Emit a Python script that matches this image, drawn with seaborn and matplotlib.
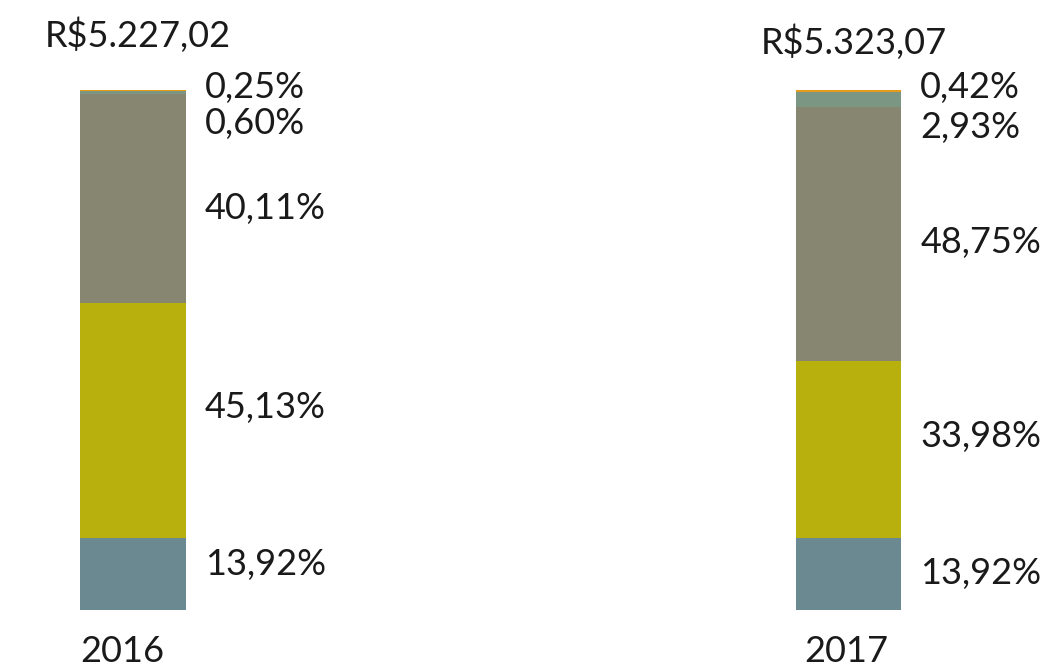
import matplotlib
matplotlib.use("Agg")
import matplotlib.pyplot as plt
import seaborn as sns
import pandas as pd
import numpy as np

years = ["2016", "2017"]
totals = ["R$5.227,02", "R$5.323,07"]
seg_a = [13.92, 13.92]   # bottom
seg_b = [45.13, 33.98]
seg_c = [40.11, 48.75]
seg_d = [0.60, 2.93]
seg_e = [0.25, 0.42]     # top
seg_labels_2016 = ["13,92%", "45,13%", "40,11%", "0,60%", "0,25%"]
seg_labels_2017 = ["13,92%", "33,98%", "48,75%", "2,93%", "0,42%"]
label_y_2016 = [8.8, 39.0, 77.3, 93.5, 100.4]
label_y_2017 = [7.1, 33.3, 70.6, 92.7, 100.4]

colors = ["#6A8991", "#B8B00C", "#878670", "#7C9684", "#E59A1C"]

sns.set_theme(style="white")
plt.rcParams['font.family'] = ['Lato', 'DejaVu Sans']

fig = plt.figure(figsize=(10.49, 6.68), dpi=100)
ax = fig.add_axes([0, 0, 1, 1])

segs = [seg_a, seg_b, seg_c, seg_d, seg_e]
cum = np.cumsum(np.array(segs), axis=0)
for i in range(len(segs) - 1, -1, -1):
    df = pd.DataFrame({"year": years, "value": cum[i]})
    sns.barplot(data=df, x="year", y="value", color=colors[i], saturation=1,
                width=0.147, ax=ax, linewidth=0, errorbar=None)

fs = 26
kw = dict(fontsize=fs, color="#1a1a1a", fontweight="normal")
for xi, (labs, ys) in enumerate([(seg_labels_2016, label_y_2016), (seg_labels_2017, label_y_2017)]):
    for lab, yv in zip(labs, ys):
        ax.text(xi + 0.1, yv, lab, ha="left", va="center", **kw)
ax.text(0.007, 110.6, totals[0], ha="center", va="center", **kw)
ax.text(1.0075, 109.2, totals[1], ha="center", va="center", **kw)
ax.text(-0.015, -7.9, years[0], ha="center", va="center", **kw)
ax.text(0.996, -7.9, years[1], ha="center", va="center", **kw)

ax.set_xlim(-0.186, 1.280)
ax.set_ylim(-11.15, 117.3)
ax.axis("off")
fig.savefig("out.png", dpi=100)
